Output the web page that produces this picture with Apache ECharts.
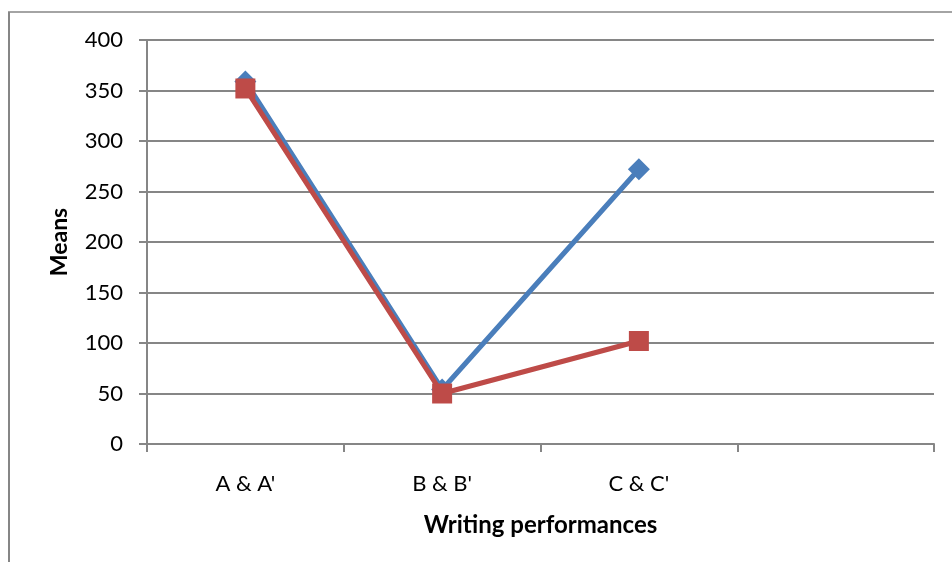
<!DOCTYPE html>
<html>
<head>
<meta charset="utf-8">
<script src="https://cdn.jsdelivr.net/npm/echarts@6/dist/echarts.min.js"></script>
<style>html,body{margin:0;padding:0;background:#fff}#c{width:952px;height:562px}</style>
</head>
<body>
<div id="c"></div>
<script>
var categories = ["A & A'", "B & B'", "C & C'", ""];
var seriesBlue = [359, 54, 272];
var seriesRed = [352, 50, 102];
var yTicks = [0, 50, 100, 150, 200, 250, 300, 350, 400];

var chart = echarts.init(document.getElementById('c'), null, {renderer: 'canvas'});
var font = 'Lato, "Open Sans", sans-serif';
chart.setOption({
  animation: false,
  backgroundColor: '#ffffff',
  graphic: [
    {type: 'line', shape: {x1: 9, y1: 12, x2: 9, y2: 570}, style: {stroke: '#868686', lineWidth: 2}},
    {type: 'line', shape: {x1: 8, y1: 12, x2: 960, y2: 12}, style: {stroke: '#868686', lineWidth: 1.5}}
  ],
  grid: {left: 147, right: 18, top: 40, bottom: 118},
  xAxis: {
    type: 'category',
    data: categories,
    boundaryGap: true,
    name: 'Writing performances',
    nameLocation: 'middle',
    nameGap: 69,
    nameTextStyle: {fontFamily: font, fontWeight: 'bold', fontSize: 24, color: '#000'},
    axisLine: {lineStyle: {color: '#868686', width: 2}},
    axisTick: {show: true, inside: false, length: 8, alignWithLabel: false, lineStyle: {color: '#868686', width: 2}},
    axisLabel: {fontFamily: font, fontSize: 22, color: '#000', margin: 29},
    splitLine: {show: false}
  },
  yAxis: {
    type: 'value',
    min: yTicks[0],
    max: yTicks[yTicks.length - 1],
    interval: 50,
    name: 'Means',
    nameLocation: 'middle',
    nameGap: 76,
    nameRotate: 90,
    nameTextStyle: {fontFamily: font, fontWeight: 'bold', fontSize: 23, color: '#000'},
    axisLine: {show: true, lineStyle: {color: '#868686', width: 2}},
    axisTick: {show: true, length: 8, lineStyle: {color: '#868686', width: 2}},
    axisLabel: {fontFamily: font, fontSize: 22, color: '#000', margin: 24},
    splitLine: {show: true, lineStyle: {color: '#868686', width: 2}}
  },
  series: [
    {
      type: 'line',
      data: seriesBlue,
      symbol: 'diamond',
      symbolSize: 22,
      itemStyle: {color: '#4a7ebb'},
      lineStyle: {color: '#4a7ebb', width: 5},
      z: 2
    },
    {
      type: 'line',
      data: seriesRed,
      symbol: 'rect',
      symbolSize: 20,
      itemStyle: {color: '#be4b48'},
      lineStyle: {color: '#be4b48', width: 5},
      z: 3
    }
  ]
});
</script>
</body>
</html>
